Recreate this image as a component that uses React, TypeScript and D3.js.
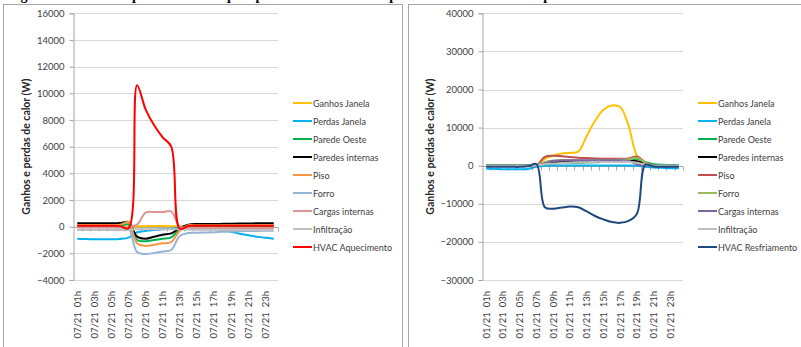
import { useEffect, useRef } from "react";
import * as d3 from "d3";

// hourly categories (one typical day)
const hours = [
  "01h", "02h", "03h", "04h", "05h", "06h", "07h", "08h", "09h", "10h", "11h", "12h",
  "13h", "14h", "15h", "16h", "17h", "18h", "19h", "20h", "21h", "22h", "23h", "24h",
];

const seriesNames = [
  "Ganhos Janela",
  "Perdas Janela",
  "Parede Oeste",
  "Paredes internas",
  "Piso",
  "Forro",
  "Cargas internas",
  "Infiltração",
];

// winter day (07/21) - heating
const winterTicks = [-4000, -2000, 0, 2000, 4000, 6000, 8000, 10000, 12000, 14000, 16000];
const wGanhosJanela = [0, 0, 0, 0, 0, 0, 0, 20, 40, 50, 50, 40, 20, 0, 0, 0, 0, 0, 0, 0, 0, 0, 0, 0];
const wPerdasJanela = [-900, -930, -950, -950, -950, -920, -820, -420, -320, -260, -200, -150, -80, -30, 0, -40, -130, -240, -390, -530, -650, -750, -840, -900];
const wParedeOeste = [50, 50, 50, 50, 50, 60, 150, -1000, -1100, -1000, -900, -800, -200, 50, 50, 50, 50, 50, 50, 50, 50, 50, 50, 50];
const wParedesInternas = [250, 250, 250, 250, 250, 270, 350, -750, -900, -750, -600, -500, -100, 150, 200, 200, 200, 210, 220, 230, 240, 250, 250, 260];
const wPiso = [120, 120, 120, 120, 120, 140, 350, -1250, -1450, -1350, -1250, -1150, -300, 100, 100, 100, 100, 100, 100, 100, 100, 100, 100, 100];
const wForro = [-230, -230, -230, -230, -230, -220, -150, -1900, -2050, -1970, -1870, -1750, -700, -480, -450, -430, -410, -390, -370, -350, -330, -320, -310, -300];
const wCargasInternas = [-60, -60, -60, -60, -60, -60, -50, 150, 1050, 1100, 1100, 1150, 0, -100, -100, -100, -100, -100, -100, -100, -100, -100, -100, -100];
const wInfiltracao = [-250, -250, -250, -250, -250, -250, -230, -200, -200, -200, -200, -200, -200, -220, -230, -230, -240, -240, -250, -250, -250, -250, -250, -250];
const wHvac = [60, 60, 60, 60, 60, 40, -120, 10600, 8800, 7600, 6700, 6000, -150, 50, 60, 60, 60, 60, 60, 60, 60, 60, 60, 60];

// summer day (01/21) - cooling
const summerTicks = [-30000, -20000, -10000, 0, 10000, 20000, 30000, 40000];
const sGanhosJanela = [0, 0, 0, 0, 0, 0, 100, 1800, 2600, 3200, 3400, 3700, 7800, 11800, 14700, 15800, 15400, 10500, 2600, 400, 0, 0, 0, 0];
const sPerdasJanela = [-800, -850, -900, -900, -900, -850, -300, 0, 50, 50, 50, 50, 50, 50, 50, 50, 50, 50, 0, -250, -450, -550, -650, -700];
const sParedeOeste = [150, 150, 150, 150, 150, 150, 150, 400, 600, 700, 750, 800, 850, 900, 950, 1000, 1100, 1300, 1800, 900, 400, 250, 200, 150];
const sParedesInternas = [0, 0, 0, 0, 0, 0, 50, 700, 900, 950, 950, 1000, 1000, 1050, 1050, 1100, 1150, 1200, 1200, 500, 0, -100, -100, -100];
const sPiso = [-100, -100, -100, -100, -100, -100, 0, 2300, 2600, 2500, 2300, 2100, 2000, 1900, 1800, 1800, 1800, 1900, 2400, 900, -100, -150, -150, -150];
const sForro = [0, 0, 0, 0, 0, 0, 50, 1000, 1300, 1400, 1400, 1400, 1400, 1450, 1500, 1500, 1600, 1700, 2100, 800, 0, 0, 0, 0];
const sCargasInternas = [0, 0, 0, 0, 0, 0, 0, 600, 1300, 1400, 1400, 1400, 1400, 1400, 1400, 1400, 1400, 1300, 400, 0, 0, 0, 0, 0];
const sInfiltracao = [0, 0, 0, 0, 0, 0, 100, 400, 600, 700, 800, 900, 900, 1000, 1000, 1000, 1000, 1000, 800, 300, 0, 0, 0, 0];
const sHvac = [-300, -300, -300, -300, -300, -150, 400, -10900, -11300, -11000, -10700, -10900, -12000, -13200, -14100, -14800, -15000, -14500, -12600, 200, -200, -300, -300, -300];

const winterColors = ["#FFC000", "#00B0F0", "#00B050", "#000000", "#F79646", "#95B3D7", "#D99694", "#BFBFBF", "#FF0000"];
const summerColors = ["#FFC000", "#00B0F0", "#00B050", "#000000", "#C0504D", "#9BBB59", "#8064A2", "#BFBFBF", "#1F497D"];

const FONT = "Lato, 'Open Sans', sans-serif";

function drawPanel(svg, opts) {
  const { left, right, top, bottom, ticks, series, names, colors, datePrefix, titleX, legendX } = opts;
  const g = svg.append("g");

  const x = d3.scaleBand().domain(hours).range([left, right]).padding(0);
  const cx = (h) => x(h) + x.bandwidth() / 2;
  const y = d3
    .scaleLinear()
    .domain([ticks[0], ticks[ticks.length - 1]])
    .range([bottom, top]);

  // gridlines
  g.append("g")
    .selectAll("line")
    .data(ticks)
    .join("line")
    .attr("x1", left)
    .attr("x2", right)
    .attr("y1", (d) => Math.round(y(d)) + 0.5)
    .attr("y2", (d) => Math.round(y(d)) + 0.5)
    .attr("stroke", "#d9d9d9");

  // value axis
  g.append("g")
    .attr("transform", `translate(${left + 0.5},0)`)
    .call(d3.axisLeft(y).tickValues(ticks).tickSize(4).tickPadding(5).tickFormat(d3.format("d")))
    .call((a) => a.selectAll("path,line").attr("stroke", "#a6a6a6"))
    .call((a) => a.selectAll("text").attr("fill", "#404040").attr("font-size", 9.5).attr("font-family", FONT));

  // category axis on zero
  const zeroY = Math.round(y(0)) + 0.5;
  g.append("line")
    .attr("x1", left)
    .attr("x2", right)
    .attr("y1", zeroY)
    .attr("y2", zeroY)
    .attr("stroke", "#a6a6a6");
  g.append("g")
    .selectAll("line")
    .data(hours)
    .join("line")
    .attr("x1", (h) => Math.round(x(h) + x.bandwidth()) + 0.5)
    .attr("x2", (h) => Math.round(x(h) + x.bandwidth()) + 0.5)
    .attr("y1", zeroY)
    .attr("y2", zeroY + 4)
    .attr("stroke", "#a6a6a6");

  // category labels
  g.append("g")
    .selectAll("text")
    .data(hours.filter((_, i) => i % 2 === 0))
    .join("text")
    .attr("transform", (h) => `translate(${cx(h)},${bottom + 11}) rotate(-90)`)
    .attr("text-anchor", "end")
    .attr("dominant-baseline", "central")
    .attr("font-size", 9.5)
    .attr("font-family", FONT)
    .attr("fill", "#404040")
    .style("white-space", "pre")
    .text((h) => `${datePrefix}  ${h}`);

  // y title
  g.append("text")
    .attr("transform", `translate(${titleX},${(top + bottom) / 2}) rotate(-90)`)
    .attr("text-anchor", "middle")
    .attr("dominant-baseline", "central")
    .attr("font-size", 10.5)
    .attr("font-weight", "bold")
    .attr("font-family", FONT)
    .attr("fill", "#262626")
    .text("Ganhos e perdas de calor (W)");

  const line = d3
    .line()
    .x((d, i) => cx(hours[i]))
    .y((d) => y(d))
    .curve(d3.curveCatmullRom.alpha(0.5));

  g.append("g")
    .selectAll("path")
    .data(series)
    .join("path")
    .attr("d", (s) => line(s))
    .attr("fill", "none")
    .attr("stroke", (_, i) => colors[i])
    .attr("stroke-width", 2)
    .attr("stroke-linejoin", "round");

  // legend
  const leg = g
    .append("g")
    .selectAll("g")
    .data(names)
    .join("g")
    .attr("transform", (_, i) => `translate(${legendX},${103 + i * 18})`);
  leg
    .append("line")
    .attr("x1", 0)
    .attr("x2", 19)
    .attr("stroke", (_, i) => colors[i])
    .attr("stroke-width", 2);
  leg
    .append("text")
    .attr("x", 20)
    .attr("dominant-baseline", "central")
    .attr("font-size", 9)
    .attr("font-family", FONT)
    .attr("fill", "#404040")
    .text((d) => d);
}

export default function App() {
  const ref = useRef(null);

  useEffect(() => {
    const svg = d3.select(ref.current);
    svg.selectAll("*").remove();

    svg.append("rect").attr("width", 801).attr("height", 347).attr("fill", "#fff");

    // caption (cut off by the top of the picture)
    svg
      .append("text")
      .attr("x", 8)
      .attr("y", 0)
      .attr("font-family", "'Liberation Serif', serif")
      .attr("font-weight", "bold")
      .attr("font-size", 14)
      .attr("fill", "#000")
      .text("Figura 4 – Ganhos e perdas de calor pelo perfil horário no dia típico de inverno e no dia típico de verão");

    // chart frames
    svg.append("rect").attr("x", 3.5).attr("y", 4.5).attr("width", 399).attr("height", 360).attr("fill", "#fff").attr("stroke", "#a6a6a6");
    svg.append("rect").attr("x", 408.5).attr("y", 4.5).attr("width", 400).attr("height", 360).attr("fill", "#fff").attr("stroke", "#a6a6a6");

    drawPanel(svg, {
      left: 73,
      right: 278,
      top: 13.3,
      bottom: 280,
      ticks: winterTicks,
      series: [wGanhosJanela, wPerdasJanela, wParedeOeste, wParedesInternas, wPiso, wForro, wCargasInternas, wInfiltracao, wHvac],
      names: [...seriesNames, "HVAC Aquecimento"],
      colors: winterColors,
      datePrefix: "07/21",
      titleX: 26,
      legendX: 293,
    });

    drawPanel(svg, {
      left: 482,
      right: 683,
      top: 13.3,
      bottom: 280,
      ticks: summerTicks,
      series: [sGanhosJanela, sPerdasJanela, sParedeOeste, sParedesInternas, sPiso, sForro, sCargasInternas, sInfiltracao, sHvac],
      names: [...seriesNames, "HVAC Resfriamento"],
      colors: summerColors,
      datePrefix: "01/21",
      titleX: 430,
      legendX: 698,
    });
  }, []);

  return (
    <div style={{ position: "absolute", left: 0, top: 0 }}>
      <svg ref={ref} width={801} height={347} style={{ display: "block" }} />
    </div>
  );
}
